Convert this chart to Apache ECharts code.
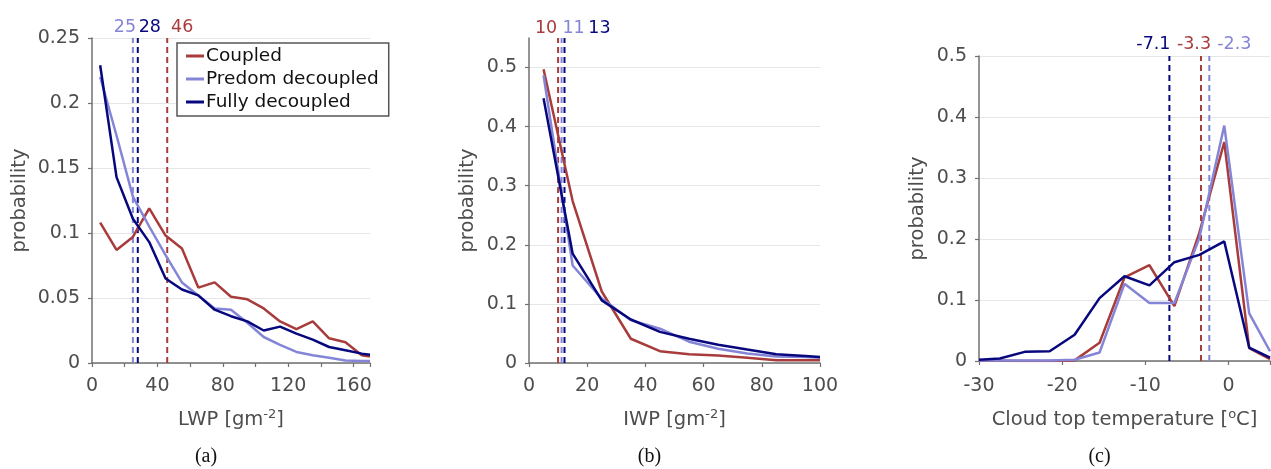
<!DOCTYPE html>
<html><head><meta charset="utf-8">
<script src="https://cdn.jsdelivr.net/npm/echarts@6/dist/echarts.min.js"></script>
<style>html,body{margin:0;padding:0;background:#fff}#c{width:1271px;height:469px}</style>
</head><body><div id="c"></div>
<script>
// ---------- data ----------
const seriesNames = ['Coupled', 'Predom decoupled', 'Fully decoupled'];
const seriesColors = ['#A83C3C', '#8585D8', '#07077E'];

// (a) LWP
const lwpX = [5, 15, 25, 35, 45, 55, 65, 75, 85, 95, 105, 115, 125, 135, 145, 155, 165, 170];
const lwpCoupled = [0.108, 0.087, 0.097, 0.119, 0.098, 0.088, 0.058, 0.062, 0.051, 0.049, 0.042, 0.032, 0.026, 0.032, 0.019, 0.016, 0.006, 0.005];
const lwpPredom  = [0.220, 0.175, 0.128, 0.105, 0.083, 0.062, 0.052, 0.042, 0.041, 0.031, 0.020, 0.014, 0.0085, 0.006, 0.004, 0.002, 0.0015, 0.0015];
const lwpFully   = [0.229, 0.143, 0.111, 0.093, 0.065, 0.0565, 0.052, 0.041, 0.036, 0.032, 0.025, 0.028, 0.0226, 0.018, 0.0123, 0.0098, 0.0072, 0.0064];
const lwpMedians = [46, 25, 28];
const lwpMedianLabels = ['46', '25', '28'];

// (b) IWP
const iwpX = [5, 15, 25, 35, 45, 55, 65, 75, 85, 95, 100];
const iwpCoupled = [0.497, 0.274, 0.121, 0.041, 0.020, 0.015, 0.0125, 0.009, 0.0045, 0.0045, 0.0045];
const iwpPredom  = [0.487, 0.165, 0.109, 0.0725, 0.058, 0.036, 0.024, 0.016, 0.011, 0.010, 0.009];
const iwpFully   = [0.448, 0.185, 0.106, 0.0736, 0.0527, 0.041, 0.031, 0.0227, 0.0147, 0.012, 0.010];
const iwpMedians = [10, 11.2, 12.2];
const iwpMedianLabels = ['10', '11', '13'];

// (c) cloud top temperature
const ctX = [-30, -27.5, -24.5, -21.5, -18.5, -15.5, -12.5, -9.5, -6.5, -3.5, -0.5, 2.5, 5];
const ctCoupled = [0.001, 0.0005, 0, 0, 0.001, 0.030, 0.137, 0.157, 0.090, 0.210, 0.359, 0.021, 0.003];
const ctPredom  = [0.001, 0.001, 0.001, 0.001, 0.002, 0.014, 0.1265, 0.095, 0.095, 0.2015, 0.386, 0.078, 0.016];
const ctFully   = [0.002, 0.004, 0.015, 0.016, 0.043, 0.103, 0.139, 0.124, 0.162, 0.174, 0.196, 0.022, 0.0055];
const ctMedians = [-3.3, -2.3, -7.1];
const ctMedianLabels = ['-3.3', '-2.3', '-7.1'];

// ---------- layout / style ----------
const FONT = 'DejaVu Sans';
const TXT = '#4d4d4d';
const AX = '#707070';
const panels = [
  { x: lwpX, ys: [lwpCoupled, lwpPredom, lwpFully], med: lwpMedians, medLab: lwpMedianLabels,
    medOffset: [[15, 3], [-8, 3], [12, 3]],
    xMin: 0, xMax: 170, xInt: 20, yMax: 0.25, yInt: 0.05,
    xName: '{n|LWP [gm}{s|-2}{n|]}', yGap: 62, xMargin: 14, xGap: 45,
    grid: { left: 92, top: 38, width: 278, height: 325 },
    xLabel: v => (v % 40 === 0 && v <= 160) ? String(v) : '', showMaxY: true, cap: '(a)' },
  { x: iwpX, ys: [iwpCoupled, iwpPredom, iwpFully], med: iwpMedians, medLab: iwpMedianLabels,
    medOffset: [[-12, 4], [12, 4], [35, 4]],
    xMin: 0, xMax: 100, xInt: 20, yMax: 0.55, yInt: 0.1,
    xName: '{n|IWP [gm}{s|-2}{n|]}', yGap: 51, xMargin: 14, xGap: 45,
    grid: { left: 529, top: 38, width: 291, height: 325 },
    xLabel: v => String(v), showMaxY: false, cap: '(b)' },
  { x: ctX, ys: [ctCoupled, ctPredom, ctFully], med: ctMedians, medLab: ctMedianLabels,
    medOffset: [[-7, 2], [25, 2], [-16, 2]],
    xMin: -30, xMax: 5, xInt: 10, yMax: 0.5, yInt: 0.1,
    xName: '{n|Cloud top temperature [}{s|o}{n|C]}', yGap: 51, xMargin: 16, xGap: 47,
    grid: { left: 979, top: 56, width: 291, height: 305 },
    xLabel: v => (v === 5 ? '' : String(v)), showMaxY: true, cap: '(c)' }
];

const grids = [], xAxes = [], yAxes = [], series = [], graphics = [];
panels.forEach((p, i) => {
  grids.push(Object.assign({ outerBoundsMode: 'none', containLabel: false }, p.grid));
  xAxes.push({
    type: 'value', gridIndex: i, min: p.xMin, max: p.xMax, interval: p.xInt,
    axisLine: { show: true, onZero: false, lineStyle: { color: AX, width: 1.5 } },
    axisTick: { show: true, length: 4, lineStyle: { color: AX, width: 1.2 } },
    axisLabel: { formatter: p.xLabel, color: TXT, fontFamily: FONT, fontSize: 19, margin: p.xMargin, showMaxLabel: true },
    splitLine: { show: false },
    name: p.xName, nameLocation: 'middle', nameGap: p.xGap,
    nameTextStyle: { color: TXT, fontFamily: FONT,
      rich: { n: { fontSize: 19.5, color: TXT, fontFamily: FONT, lineHeight: 24 },
              s: { fontSize: 13, color: TXT, fontFamily: FONT, verticalAlign: 'top', lineHeight: 14 } } }
  });
  yAxes.push({
    type: 'value', gridIndex: i, min: 0, max: p.yMax, interval: p.yInt,
    axisLine: { show: true, onZero: false, lineStyle: { color: AX, width: 1.5 } },
    axisTick: { show: true, length: 4, lineStyle: { color: AX, width: 1.2 } },
    axisLabel: { color: TXT, fontFamily: FONT, fontSize: 19, margin: 12, showMaxLabel: p.showMaxY },
    splitLine: { show: true, showMaxLine: p.showMaxY, lineStyle: { color: '#e6e6e6', width: 1.2 } },
    name: 'probability', nameLocation: 'middle', nameGap: p.yGap,
    nameTextStyle: { color: TXT, fontFamily: FONT, fontSize: 19.5 }
  });
  // median dashed lines + labels
  p.med.forEach((m, k) => {
    series.push({
      type: 'line', xAxisIndex: i, yAxisIndex: i, name: 'median-' + i + '-' + k,
      data: [[m, 0], [m, p.yMax]], symbol: 'none', silent: true, z: 1,
      lineStyle: { color: seriesColors[k], width: 2, type: [6, 4] }
    });
    series.push({
      type: 'scatter', xAxisIndex: i, yAxisIndex: i, name: 'medlab-' + i + '-' + k,
      data: [[m, p.yMax]], symbolSize: 2, itemStyle: { color: 'rgba(255,255,255,0)' }, silent: true, z: 3,
      label: { show: true, position: 'top', distance: 4, offset: p.medOffset[k], opacity: 1,
        formatter: () => p.medLab[k], color: seriesColors[k], fontFamily: FONT, fontSize: 17.5 }
    });
  });
  // distributions
  p.ys.forEach((ys, k) => {
    series.push({
      type: 'line', xAxisIndex: i, yAxisIndex: i, name: seriesNames[k],
      data: p.x.map((x, j) => [x, ys[j]]), symbol: 'none', showSymbol: false, z: 2,
      color: seriesColors[k],
      lineStyle: { color: seriesColors[k], width: 2.5 }
    });
  });
  graphics.push({
    type: 'text', x: p.grid.left + p.grid.width / 2 - 25, y: 457,
    style: { text: p.cap, fontFamily: 'Liberation Serif', fontSize: 20, fill: '#111', align: 'center', verticalAlign: 'middle' }
  });
});

const chart = echarts.init(document.getElementById('c'), null, { renderer: 'canvas' });
chart.setOption({
  animation: false,
  backgroundColor: '#fff',
  grid: grids, xAxis: xAxes, yAxis: yAxes, series: series, graphic: graphics,
  legend: {
    data: seriesNames, orient: 'vertical', left: 177, top: 43,
    icon: 'rect', itemWidth: 18, itemHeight: 3, itemGap: 1,
    padding: [2, 10, 3, 9],
    backgroundColor: '#fff', borderColor: '#555', borderWidth: 1.5,
    textStyle: { color: '#111', fontFamily: FONT, fontSize: 18.5, lineHeight: 22, padding: [0, 0, 0, -3] }
  }
});
</script></body></html>
